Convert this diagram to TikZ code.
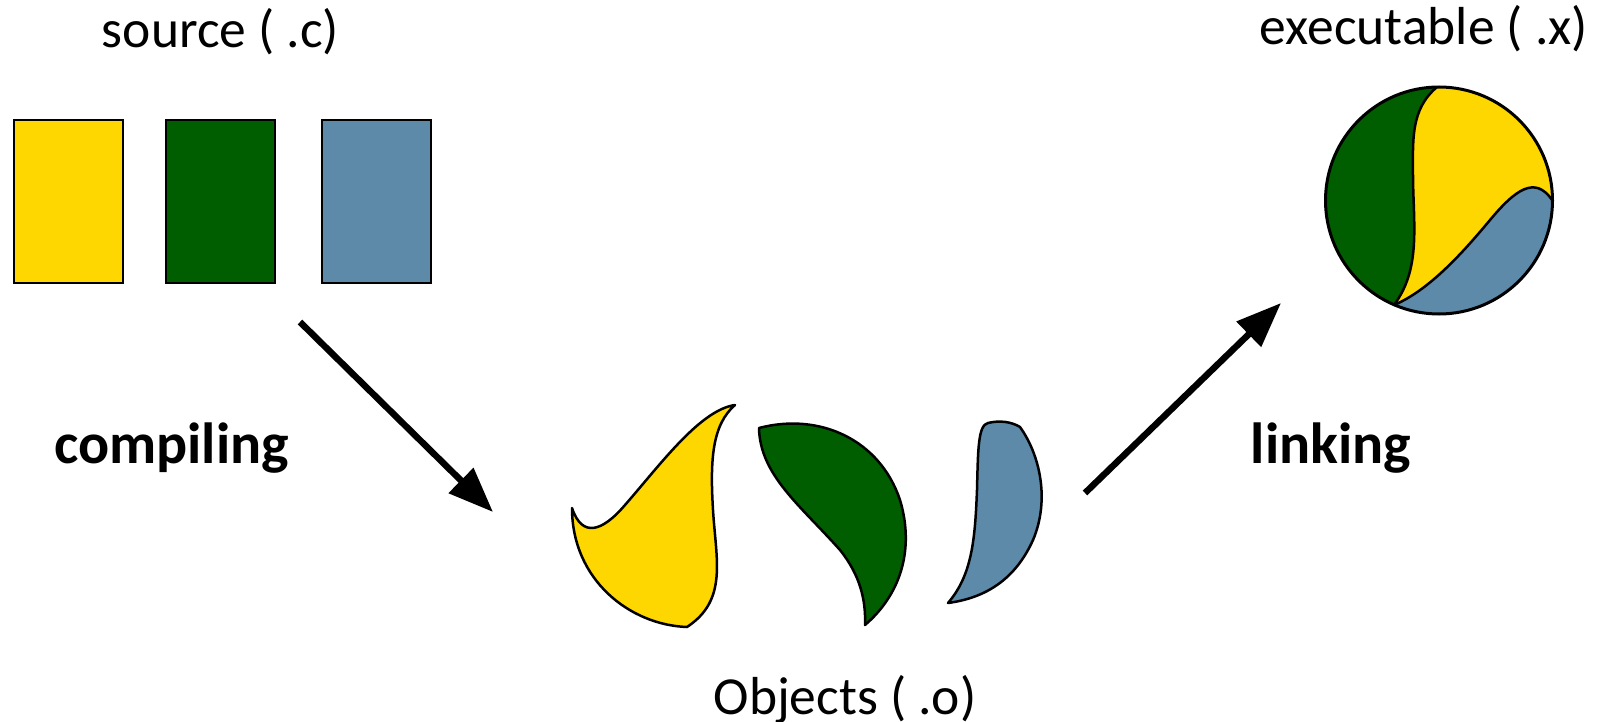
\documentclass[tikz,border=0pt]{standalone}
\usepackage{fontspec}
\setmainfont{Carlito}
\usetikzlibrary{arrows.meta}
\definecolor{cyellow}{HTML}{FFD700}
\definecolor{cgreen}{HTML}{005E00}
\definecolor{cblue}{HTML}{5E8AAA}
\tikzset{
  srcbox/.style={draw=black, line width=2pt, minimum width=109pt, minimum height=163pt, inner sep=0pt},
  piece/.style={draw=black, line width=2.5pt, line join=round},
  flow/.style={line width=6.5pt, -{Triangle[length=45pt, width=34pt]}},
  lbl/.style={font=\fontsize{53.5}{60}\selectfont, inner sep=0pt, anchor=base},
  step lbl/.style={font=\fontsize{58}{64}\selectfont\bfseries, inner sep=0pt, anchor=base}
}
\begin{document}
\begin{tikzpicture}[x=1pt, y=-1pt]
\useasboundingbox (0,0) rectangle (1607,722);

% source files
\node[lbl] (srclbl) at (220.5,48) {source ( .c)};
\node[srcbox, fill=cyellow] (srcA) at (68.5,201.5) {};
\node[srcbox, fill=cgreen]  (srcB) at (220.5,201.5) {};
\node[srcbox, fill=cblue]   (srcC) at (376,201.5) {};

% object files
\draw[piece, fill=cyellow]
  (572,508) .. controls (582,538) and (602,532) .. (625,505)
  .. controls (660,465) and (700,410) .. (735,405)
  .. controls (712,425) and (710,460) .. (713,510)
  .. controls (716,560) and (728,600) .. (687,627)
  .. controls (630,625) and (572,580) .. cycle;
\draw[piece, fill=cgreen]
  (759,428) .. controls (820,412) and (880,440) .. (900,500)
  .. controls (915,550) and (900,595) .. (865,625)
  .. controls (866,600) and (860,575) .. (840,550)
  .. controls (800,505) and (760,475) .. cycle;
\draw[piece, fill=cblue]
  (988,423) .. controls (1000,420) and (1012,422) .. (1020,427)
  .. controls (1040,455) and (1050,500) .. (1033,540)
  .. controls (1015,580) and (985,598) .. (948,603)
  .. controls (972,575) and (975,540) .. (977,490)
  .. controls (978,450) and (978,425) .. cycle;
\node[lbl] (objlbl) at (845,714) {Objects ( .o)};

% executable: a disc cut into three parts
\coordinate (ex) at (1439,200.5);
\coordinate (exT) at (1437,87);
\coordinate (exB) at (1394,305);
\coordinate (exR) at (1552,200);
\begin{scope}
  \clip (ex) circle[radius=113.5];
  \fill[cgreen] (ex) circle[radius=113.5];
  \fill[cyellow] (exT) .. controls (1410,110) and (1413,140) .. (1413,180)
    .. controls (1414,230) and (1420,270) .. (exB)
    -- (1600,400) -- (1600,0) -- (1437,0) -- cycle;
  \fill[cblue] (exB) .. controls (1430,290) and (1465,250) .. (1490,220)
    .. controls (1515,190) and (1535,175) .. (exR)
    -- (1600,200) -- (1600,400) -- (1394,400) -- cycle;
\end{scope}
\draw[line width=2.5pt] (exT) .. controls (1410,110) and (1413,140) .. (1413,180)
  .. controls (1414,230) and (1420,270) .. (exB);
\draw[line width=2.5pt] (exB) .. controls (1430,290) and (1465,250) .. (1490,220)
  .. controls (1515,190) and (1535,175) .. (exR);
\draw[line width=3pt] (ex) circle[radius=113.5];
\node[lbl] (exelbl) at (1424,45) {executable ( .x)};

% build steps
\coordinate (cmpS) at (300,322);
\coordinate (cmpE) at (493,512);
\coordinate (lnkS) at (1085,493);
\coordinate (lnkE) at (1281,303);
\draw[flow] (cmpS) -- (cmpE);
\draw[flow] (lnkS) -- (lnkE);
\node[step lbl] (cmplbl) at (171.5,463) {compiling};
\node[step lbl] (lnklbl) at (1331,463) {linking};
\end{tikzpicture}
\end{document}
